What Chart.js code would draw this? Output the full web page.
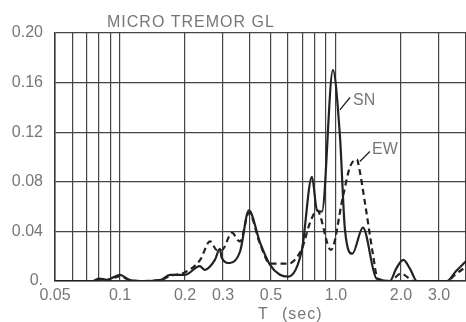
<!DOCTYPE html>
<html>
<head>
<meta charset="utf-8">
<script src="https://cdn.jsdelivr.net/npm/chart.js@4"></script>
<style>
  body { margin: 0; background: #fff; }
</style>
</head>
<body>
<canvas id="myGraphic" width="466" height="322"></canvas>
<script>
// Periods (sec) and amplitudes
var periodSN = [0.05, 0.075, 0.08, 0.087, 0.1, 0.11, 0.125, 0.155, 0.17, 0.2, 0.234, 0.247, 0.275, 0.29, 0.296, 0.323, 0.36, 0.395, 0.445, 0.495, 0.55, 0.6, 0.695, 0.774, 0.817, 0.861, 0.968, 1.043, 1.101, 1.19, 1.333, 1.54, 1.78, 1.9, 2.05, 2.2, 2.37, 3.27, 3.6, 4.0];
var ampSN    = [0, 0, 0.002, 0.001, 0.005, 0.001, 0, 0.001, 0.005, 0.005, 0.012, 0.009, 0.017, 0.026, 0.0185, 0.0145, 0.024, 0.057, 0.031, 0.013, 0.005, 0.0035, 0.025, 0.084, 0.057, 0.056, 0.17, 0.117, 0.041, 0.022, 0.043, 0.002, 0, 0.01, 0.017, 0.01, 0, 0, 0.008, 0.016];

var periodEW = [0.05, 0.075, 0.08, 0.087, 0.1, 0.11, 0.125, 0.155, 0.17, 0.2, 0.235, 0.261, 0.281, 0.296, 0.33, 0.351, 0.36, 0.395, 0.445, 0.495, 0.6, 0.695, 0.758, 0.817, 0.948, 1.077, 1.161, 1.25, 1.264, 1.362, 1.482, 1.559, 1.78, 2.0, 2.3, 3.3, 3.5, 4.0];
var ampEW    = [0, 0, 0.001, 0.0005, 0.004, 0.001, 0, 0.001, 0.004, 0.007, 0.017, 0.032, 0.025, 0.025, 0.039, 0.033, 0.032, 0.055, 0.03, 0.014, 0.014, 0.026, 0.047, 0.057, 0.025, 0.068, 0.092, 0.098, 0.096, 0.063, 0.022, 0.002, 0, 0.006, 0, 0, 0.004, 0.0115];

// Grid lines and labels of the period axis
var gridT  = [0.05, 0.06, 0.07, 0.08, 0.09, 0.1, 0.2, 0.3, 0.4, 0.5, 0.6, 0.7, 0.8, 0.9, 1.0, 2.0, 3.0, 4.0];
var labelT = [0.05, 0.1, 0.2, 0.3, 0.5, 1.0, 2.0, 3.0];
var yTicks = [0, 0.04, 0.08, 0.12, 0.16, 0.20];

var toPoints = function (xs, ys) {
    return xs.map(function (v, i) { return { x: v, y: ys[i] }; });
};

var isLabel = function (v) {
    return labelT.some(function (t) { return Math.abs(t - v) < 1e-6; });
};

var tickFont = { family: '"Liberation Sans", Arial, sans-serif', size: 16 };
var textColor = '#777';
var lineColor = '#222';

// Title, axis title and curve labels with leader lines
var extraText = {
    id: 'extraText',
    afterDraw: function (chart) {
        var ctx = chart.ctx;
        var sx = chart.scales.x, sy = chart.scales.y;
        ctx.save();
        ctx.fillStyle = textColor;
        ctx.textBaseline = 'alphabetic';
        ctx.font = '16px "Liberation Sans", Arial, sans-serif';
        ctx.letterSpacing = '1px';
        ctx.fillText('MICRO TREMOR GL', 107, 27);
        ctx.fillText('T', 258, 319);
        ctx.fillText('(sec)', 282, 319);
        ctx.letterSpacing = '0px';
        ctx.fillText('SN', sx.getPixelForValue(1.2), sy.getPixelForValue(0.142));
        ctx.fillText('EW', sx.getPixelForValue(1.47), sy.getPixelForValue(0.1025));

        ctx.strokeStyle = lineColor;
        ctx.lineWidth = 1.3;
        ctx.beginPath();
        ctx.moveTo(sx.getPixelForValue(1.043), sy.getPixelForValue(0.138));
        ctx.lineTo(sx.getPixelForValue(1.161), sy.getPixelForValue(0.148));
        ctx.moveTo(sx.getPixelForValue(1.29), sy.getPixelForValue(0.0964));
        ctx.lineTo(sx.getPixelForValue(1.435), sy.getPixelForValue(0.1045));
        ctx.stroke();
        ctx.restore();
    }
};

var myChart = new Chart('myGraphic', {
    type: 'scatter',
    data: {
        datasets: [{
            label: 'SN',
            data: toPoints(periodSN, ampSN),
            showLine: true,
            borderColor: lineColor,
            borderWidth: 2.2,
            pointRadius: 0,
            cubicInterpolationMode: 'monotone'
        }, {
            label: 'EW',
            data: toPoints(periodEW, ampEW),
            showLine: true,
            borderColor: lineColor,
            borderWidth: 2.2,
            borderDash: [6, 4],
            pointRadius: 0,
            cubicInterpolationMode: 'monotone'
        }]
    },
    options: {
        responsive: false,
        animation: false,
        layout: { padding: { top: 33, right: 0, left: 0, bottom: 0 } },
        plugins: {
            legend: { display: false },
            tooltip: { enabled: false }
        },
        scales: {
            x: {
                type: 'logarithmic',
                min: 0.05,
                max: 4.0,
                afterBuildTicks: function (scale) {
                    scale.ticks = gridT.map(function (v) { return { value: v }; });
                },
                afterFit: function (scale) {
                    scale.height = 41;
                    scale.paddingRight = 0;
                },
                grid: { color: '#444', lineWidth: 1.2, drawTicks: false },
                border: { color: '#333', width: 1.5 },
                ticks: {
                    autoSkip: false,
                    maxRotation: 0,
                    padding: 5,
                    color: textColor,
                    font: tickFont,
                    callback: function (value) {
                        if (!isLabel(value)) return '';
                        return value < 0.1 ? value.toFixed(2) : value.toFixed(1);
                    }
                }
            },
            y: {
                min: 0,
                max: 0.20,
                afterBuildTicks: function (scale) {
                    scale.ticks = yTicks.map(function (v) { return { value: v }; });
                },
                afterFit: function (scale) { scale.width = 55; },
                grid: { color: '#444', lineWidth: 1.2, drawTicks: false },
                border: { color: '#333', width: 1.5 },
                ticks: {
                    padding: 12,
                    color: textColor,
                    font: tickFont,
                    callback: function (value) {
                        return value === 0 ? '0.' : value.toFixed(2);
                    }
                }
            }
        }
    },
    plugins: [extraText]
});
</script>
</body>
</html>
